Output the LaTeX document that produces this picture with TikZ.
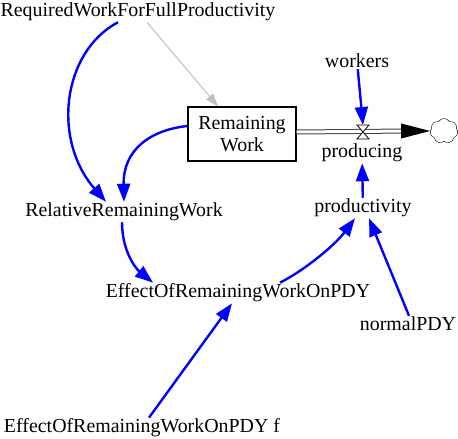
\documentclass[tikz,border=0pt]{standalone}
\usepackage{fontspec}
\setmainfont{Liberation Serif}
\usetikzlibrary{arrows.meta,shapes.symbols}
\begin{document}
\begin{tikzpicture}[x=1pt,y=-1pt,
  font=\rmfamily\fontsize{19.9}{22}\selectfont,
  every node/.style={inner sep=1pt},
  link/.style={draw=blue,line width=2.4pt,-{Triangle[length=18pt,width=13pt]}},
  graylink/.style={draw=black!25,line width=1pt,-{Triangle[length=13pt,width=9pt,fill=black!25]}},
  pipe/.style={draw=black!75,double=white,double distance=3pt,line width=1pt}]
\useasboundingbox (0,0) rectangle (458,439);
% Draw stock and flow
\node[draw,line width=1.2pt,minimum width=108pt,minimum height=54pt,align=center] (rem) at (242,134) {Remaining\\Work};
\coordinate (valve) at (363,132);
\node[cloud,draw,fill=white,cloud puffs=7,cloud puff arc=120,aspect=1.1,minimum width=28pt,minimum height=25pt,inner sep=0pt] (sink) at (444,131) {};
\draw[pipe] (rem.east |- valve) -- ([xshift=-20pt]sink.west);
\fill ([xshift=-29pt,yshift=7.5pt]sink.west) -- (sink.west) -- ([xshift=-29pt,yshift=-7.5pt]sink.west) -- cycle;
\draw[fill=white,line width=0.8pt] (357,125) -- (369,125) -- (363,132) -- cycle;
\draw[fill=white,line width=0.8pt] (357,139) -- (369,139) -- (363,132) -- cycle;
% Draw variables
\node (req) at (138,12) {RequiredWorkForFullProductivity};
\node (workers) at (357,61) {workers};
\node (producing) at (362,153) {producing};
\node (prod) at (363,208) {productivity};
\node (rel) at (124,212) {RelativeRemainingWork};
\node (eff) at (238,293) {EffectOfRemainingWorkOnPDY};
\node (normal) at (408,324) {normalPDY};
\node (efff) at (142,428) {EffectOfRemainingWorkOnPDY f};
% Draw links
\draw[graylink] ([xshift=9pt]req.south) -- ([xshift=-24pt]rem.north);
\draw[link] ([xshift=-20pt]req.south) .. controls (62,52) and (52,140) .. ([xshift=-18pt]rel.north);
\draw[link] ([yshift=8pt]rem.west) .. controls (150,130) and (123,150) .. (rel.north);
\draw[link] ([xshift=-2pt]rel.south) .. controls (122,250) and (135,268) .. ([xshift=-85pt]eff.north);
\draw[link] ([xshift=42pt]eff.north) .. controls (305,270) and (335,245) .. ([xshift=-8pt]prod.south);
\draw[link] ([xshift=1pt]normal.north) -- ([xshift=6pt]prod.south);
\draw[link] ([xshift=7pt]efff.north) -- ([xshift=-6pt]eff.south);
\draw[link] (workers) -- ([yshift=7pt]valve);
\draw[link] (prod) -- (producing);
\end{tikzpicture}
\end{document}
